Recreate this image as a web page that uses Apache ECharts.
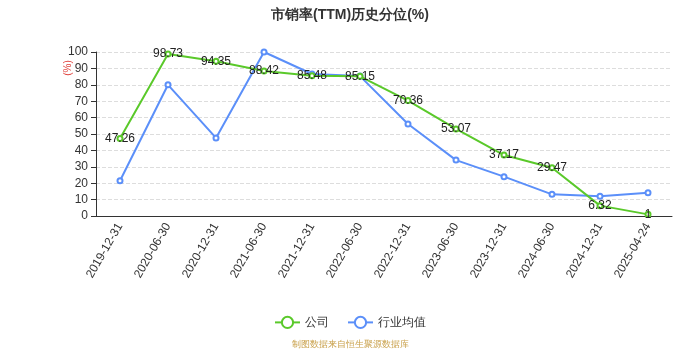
<!DOCTYPE html>
<html>
<head>
<meta charset="utf-8">
<script src="https://cdn.jsdelivr.net/npm/echarts@6/dist/echarts.min.js"></script>
<style>
html,body{margin:0;padding:0;background:#fff;}
#chart{width:700px;height:350px;}
</style>
</head>
<body>
<div id="chart"></div>
<script>
// 报告期
const categories = ['2019-12-31','2020-06-30','2020-12-31','2021-06-30','2021-12-31','2022-06-30','2022-12-31','2023-06-30','2023-12-31','2024-06-30','2024-12-31','2025-04-24'];
// 公司市销率历史分位
const companyValues = [47.26, 98.73, 94.35, 88.42, 85.48, 85.15, 70.36, 53.07, 37.17, 29.47, 6.32, 1];
// 行业均值
const industryValues = [21.5, 80, 47.6, 100, 86.6, 85.3, 56.1, 34.1, 24, 13.2, 12, 14.2];
const yTicks = [0, 10, 20, 30, 40, 50, 60, 70, 80, 90, 100];

const chart = echarts.init(document.getElementById('chart'));
chart.setOption({
  animation: false,
  title: {
    text: '市销率(TTM)历史分位(%)',
    left: 'center',
    top: 3,
    textStyle: { fontSize: 14, fontWeight: 'bold', color: '#333' }
  },
  grid: { left: 96, right: 28, top: 52, bottom: 134 },
  legend: {
    bottom: 16,
    left: 'center',
    itemWidth: 25,
    itemHeight: 14,
    itemGap: 18,
    textStyle: { fontSize: 12, color: '#333' },
    data: ['公司', '行业均值']
  },
  graphic: [
    {
      // 纵轴单位
      type: 'text',
      x: 68,
      y: 68,
      rotation: Math.PI / 2,
      style: { text: '(%)', fill: '#e0443f', fontSize: 10, align: 'center', verticalAlign: 'middle' }
    },
    {
      type: 'text',
      left: 'center',
      top: 340,
      style: { text: '制图数据来自恒生聚源数据库', fill: '#c9a04a', fontSize: 9 }
    }
  ],
  xAxis: {
    type: 'category',
    data: categories,
    boundaryGap: true,
    axisLine: { lineStyle: { color: '#333' } },
    axisTick: { alignWithLabel: false },
    axisLabel: { rotate: 60, fontSize: 12, color: '#333', interval: 0 }
  },
  yAxis: {
    type: 'value',
    min: yTicks[0],
    max: yTicks[yTicks.length - 1],
    interval: 10,
    axisLine: { show: true, lineStyle: { color: '#333' } },
    axisTick: { show: true },
    axisLabel: { fontSize: 12, color: '#333' },
    splitLine: { lineStyle: { type: 'dashed', color: '#ddd' } }
  },
  series: [
    {
      name: '公司',
      type: 'line',
      data: companyValues,
      symbol: 'emptyCircle',
      symbolSize: 5,
      itemStyle: { color: '#5ac92a' },
      lineStyle: { width: 2, color: '#5ac92a' },
      label: { show: true, position: 'inside', color: '#222', fontSize: 12 },
      z: 3
    },
    {
      name: '行业均值',
      type: 'line',
      data: industryValues,
      symbol: 'emptyCircle',
      symbolSize: 5,
      itemStyle: { color: '#5b8ff9' },
      lineStyle: { width: 2, color: '#5b8ff9' },
      z: 2
    }
  ]
});
</script>
</body>
</html>
